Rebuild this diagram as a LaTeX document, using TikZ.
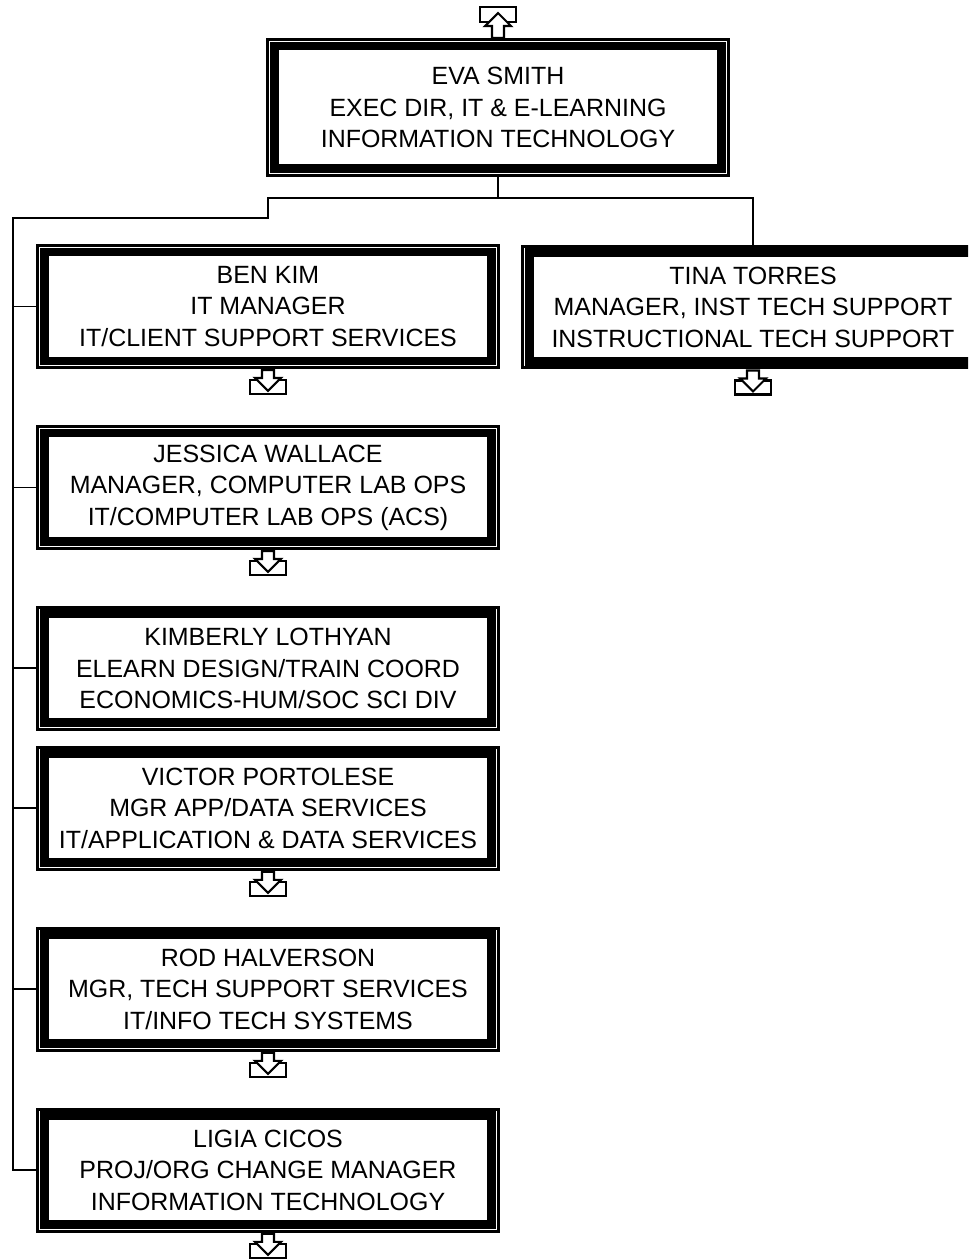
\documentclass[tikz,border=0pt]{standalone}
\usepackage{fontspec}
\setmainfont{Liberation Sans}
\begin{document}
\begin{tikzpicture}[
x=0.02cm, y=-0.02cm,
node distance=3.62cm,
staff/.style={draw, line width=1.7pt, align=center, inner sep=0pt, minimum width=9.22cm, minimum height=2.44cm, font=\fontsize{14.2}{17.9}\selectfont},
innerline/.style={line width=5.1pt},
link/.style={line width=1.1pt},
downtab/.pic={
  \draw[line width=1.2pt] (-18,11) rectangle (18,25);
  \draw[line width=1.2pt, fill=white] (-6,1) -- (6,1) -- (6,9) -- (13,9) -- (0,22) -- (-13,9) -- (-6,9) -- cycle;
},
uptab/.pic={
  \draw[line width=1.2pt] (-18,-31) rectangle (18,-16);
  \draw[line width=1.2pt, fill=white] (-6,0) -- (6,0) -- (6,-12) -- (13,-12) -- (0,-25) -- (-13,-12) -- (-6,-12) -- cycle;
}
]
\clip (0,0) rectangle (968,1260);

\node[staff, minimum height=2.72cm] (eva) at (498,107.5) {EVA SMITH\\EXEC DIR, IT \& E-LEARNING\\INFORMATION TECHNOLOGY};
\node[staff] (ben) at (268,306.5) {BEN KIM\\IT MANAGER\\IT/CLIENT SUPPORT SERVICES};
\node[staff] (tina) at (753,307) {TINA TORRES\\MANAGER, INST TECH SUPPORT\\INSTRUCTIONAL TECH SUPPORT};
\node[staff] (jessica) [below of=ben] {JESSICA WALLACE\\MANAGER, COMPUTER LAB OPS\\IT/COMPUTER LAB OPS (ACS)};
\node[staff] (kimberly) [below of=jessica] {KIMBERLY LOTHYAN\\ELEARN DESIGN/TRAIN COORD\\ECONOMICS-HUM/SOC SCI DIV};
\node[staff] (victor) [below of=kimberly, node distance=2.8cm] {VICTOR PORTOLESE\\MGR APP/DATA SERVICES\\IT/APPLICATION \& DATA SERVICES};
\node[staff] (rod) [below of=victor] {ROD HALVERSON\\MGR, TECH SUPPORT SERVICES\\IT/INFO TECH SYSTEMS};
\node[staff] (ligia) [below of=rod] {LIGIA CICOS\\PROJ/ORG CHANGE MANAGER\\INFORMATION TECHNOLOGY};

% inner thick frame of each box
\foreach \n in {eva,ben,tina,jessica,kimberly,victor,rod,ligia}
  \draw[innerline] ([shift={(8,8)}]\n.north west) rectangle ([shift={(-8,-8)}]\n.south east);

\coordinate (fork) at (498,198);
\coordinate (elbow) at (268,218);
\coordinate (spine) at (13,218);
\draw[link] (eva.south) -- (fork) -| (tina.north);
\draw[link] (fork) -| (elbow) -- (spine) |- (ligia.west);
\foreach \n in {ben,jessica,kimberly,victor,rod}
  \draw[link] (spine |- \n.west) -- (\n.west);

\pic at (eva.north) {uptab};
\foreach \n in {ben,tina,jessica,victor,rod,ligia}
  \pic at (\n.south) {downtab};
\end{tikzpicture}
\end{document}
